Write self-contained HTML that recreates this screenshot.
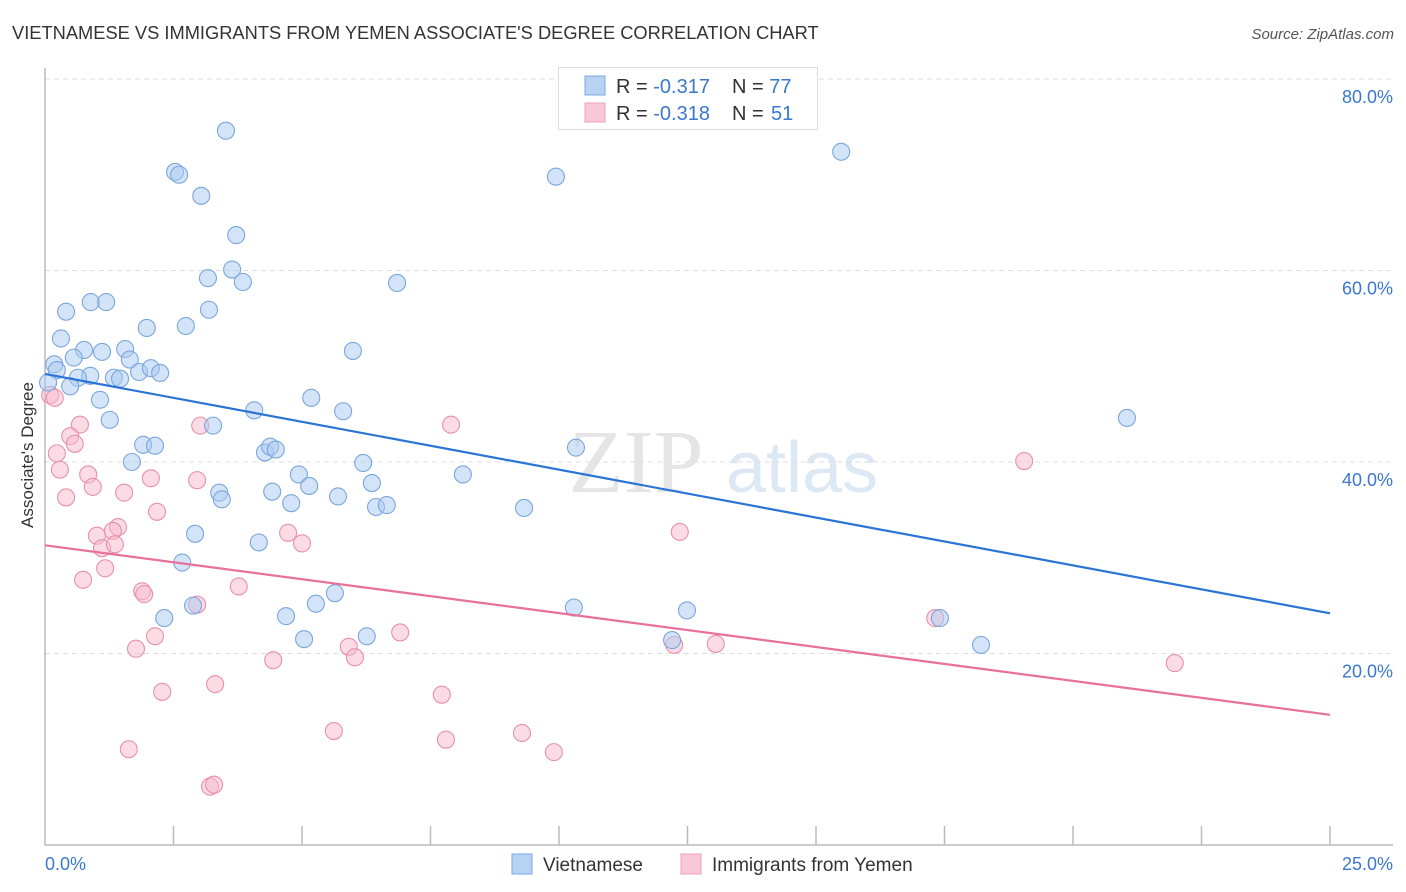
<!DOCTYPE html>
<html><head><meta charset="utf-8"><style>
body{margin:0;background:#fff;font-family:"Liberation Sans",sans-serif;}
svg{display:block}
</style></head><body>
<svg id="chart" width="1406" height="892">
<text x="12" y="39" font-size="18.3" fill="#333">VIETNAMESE VS IMMIGRANTS FROM YEMEN ASSOCIATE'S DEGREE CORRELATION CHART</text>
<text x="1394" y="39" font-size="15" fill="#555" font-style="italic" text-anchor="end">Source: ZipAtlas.com</text>
<text transform="translate(33,455) rotate(-90)" font-size="17" fill="#333" text-anchor="middle">Associate's Degree</text>
<g opacity="0.25">
<text x="636" y="492" font-size="90" font-family="Liberation Serif,serif" fill="#999" text-anchor="middle">ZIP</text>
<text x="802" y="492" font-size="72" fill="#7aa6d8" text-anchor="middle">atlas</text>
</g>
<g id="grid"></g>
<g id="axes"></g>
<g id="pts"></g>
<g id="lines"></g>
<g>
<rect x="558.5" y="67.5" width="259" height="62" fill="#fff" stroke="#ddd"/>
<rect x="585" y="76" width="20" height="19" fill="#b8d2f4" stroke="#7aaae0"/>
<rect x="585" y="103" width="20" height="19" fill="#f9c8d6" stroke="#eba0b8"/>
<text x="616" y="93" font-size="20" fill="#333">R = <tspan fill="#3a78d0">-0.317</tspan><tspan x="732">N = </tspan><tspan fill="#3a78d0">77</tspan></text>
<text x="616" y="120" font-size="20" fill="#333">R = <tspan fill="#3a78d0">-0.318</tspan><tspan x="732">N = </tspan><tspan fill="#3a78d0" x="771">51</tspan></text>
</g>
<g>
<rect x="512" y="854" width="20" height="20" fill="#b8d2f4" stroke="#7aaae0"/>
<text x="543" y="871" font-size="19" fill="#333">Vietnamese</text>
<rect x="681" y="854" width="20" height="20" fill="#f9c8d6" stroke="#eba0b8"/>
<text x="712" y="871" font-size="19" fill="#333">Immigrants from Yemen</text>
</g>
</svg>
<script>
const blueX=[3.52,2.53,2.61,3.04,3.72,3.17,3.64,3.85,6.85,0.89,1.19,0.41,3.19,2.74,1.98,0.31,5.99,0.76,1.11,1.56,0.56,1.65,0.18,0.23,0.88,1.34,1.46,1.83,2.06,2.24,0.64,0.49,0.06,1.07,4.07,5.18,5.80,1.26,3.27,1.91,2.14,4.28,4.38,4.49,1.69,6.19,4.94,8.13,5.14,6.36,3.39,3.44,4.42,5.70,4.79,6.44,6.65,9.32,10.33,2.92,4.16,2.67,5.64,5.27,2.88,10.29,12.49,2.32,4.69,5.04,6.26,12.20,17.41,18.21,21.05,9.94,15.49];
const blueY=[74.6,70.3,70.0,67.8,63.7,59.2,60.1,58.8,58.7,56.7,56.7,55.7,55.9,54.2,54.0,52.9,51.6,51.7,51.5,51.8,50.9,50.7,50.2,49.6,49.0,48.8,48.7,49.4,49.8,49.3,48.8,47.9,48.3,46.5,45.4,46.7,45.3,44.4,43.8,41.8,41.7,41.0,41.6,41.3,40.0,39.9,38.7,38.7,37.5,37.8,36.8,36.1,36.9,36.4,35.7,35.3,35.5,35.2,41.5,32.5,31.6,29.5,26.3,25.2,25.0,24.8,24.5,23.7,23.9,21.5,21.8,21.4,23.7,20.9,44.6,69.8,72.4];
const pinkX=[0.10,0.19,0.68,0.49,0.58,0.23,0.29,0.84,0.93,0.41,1.54,2.06,2.96,3.02,7.90,19.05,2.18,1.42,1.01,1.32,4.73,5.00,1.11,1.36,1.17,0.74,1.89,1.93,2.96,3.77,12.35,6.91,2.14,1.77,5.91,6.03,4.44,12.24,13.05,17.32,21.98,2.28,3.31,7.72,5.62,7.80,9.28,9.90,1.63,3.21,3.29];
const pinkY=[47.0,46.7,43.9,42.7,41.9,40.9,39.2,38.7,37.4,36.3,36.8,38.3,38.1,43.8,43.9,40.1,34.8,33.2,32.3,32.8,32.6,31.5,31.0,31.4,28.9,27.7,26.5,26.2,25.1,27.0,32.7,22.2,21.8,20.5,20.7,19.6,19.3,20.9,21.0,23.7,19.0,16.0,16.8,15.7,11.9,11.0,11.7,9.7,10.0,6.1,6.3];
const trendIntercepts=[49.2,31.3];
const trendEnds=[24.2,13.6];
const yTicks=[20,40,60,80];
const xTickVals=[0,2.5,5,7.5,10,12.5,15,17.5,20,22.5,25];
const NS="http://www.w3.org/2000/svg";
const X0=45,X1=1330,Y0=845,YK=9.575;
function sx(v){return X0+(v/25)*(X1-X0);}
function sy(v){return Y0-v*YK;}
function mk(tag,attrs,parent){const e=document.createElementNS(NS,tag);for(const k in attrs)e.setAttribute(k,attrs[k]);parent.appendChild(e);return e;}
const grid=document.getElementById('grid'),axes=document.getElementById('axes'),pts=document.getElementById('pts'),lines=document.getElementById('lines');
yTicks.forEach(t=>{
 const l=mk('line',{x1:X0,x2:1393,y1:sy(t),y2:sy(t),stroke:'#ddd','stroke-dasharray':'5,4'},grid);
 
 
 const tx=mk('text',{x:1393,y:sy(t)+24,'font-size':18,fill:'#3a78d0','text-anchor':'end'},grid);
 tx.textContent=t.toFixed(1)+'%';
 
 
});
const ax=mk('path',{d:`M${X0} 68V${Y0}H1393`,stroke:'#bbb','stroke-width':1.5,fill:'none'},axes);


xTickVals.forEach((t,i)=>{if(i===0)return;
 const tk=mk('line',{x1:sx(t),x2:sx(t),y1:826,y2:Y0,stroke:'#bbb','stroke-width':1.5},axes);
 
 
});
[[0,'start',45],[25,'end',1393]].forEach(a=>{
 const tx=mk('text',{x:a[2],y:870,'font-size':18,fill:'#3a78d0','text-anchor':a[1]},axes);
 tx.textContent=a[0].toFixed(1)+'%';
 
 
});
function dots(xs,ys,fill,stroke,name){
 xs.forEach((x,i)=>{
  const c=mk('circle',{cx:sx(x),cy:sy(ys[i]),r:8.5,fill:fill,'fill-opacity':0.5,stroke:stroke,'stroke-width':1.1},pts);
  
  
 });
}
dots(pinkX,pinkY,'#f7b9cc','#e890aa','yemen-point');
dots(blueX,blueY,'#a9c9f2','#7aa6de','vietnamese-point');
const lc=['#2a74d6','#e8709a'],ln=['vietnamese-trendline','yemen-trendline'];
trendIntercepts.forEach((b,i)=>{
 const l=mk('line',{x1:sx(0),y1:sy(b),x2:sx(25),y2:sy(trendEnds[i]),stroke:lc[i],'stroke-width':2.2},lines);
 
 
});
</script>
</body></html>
